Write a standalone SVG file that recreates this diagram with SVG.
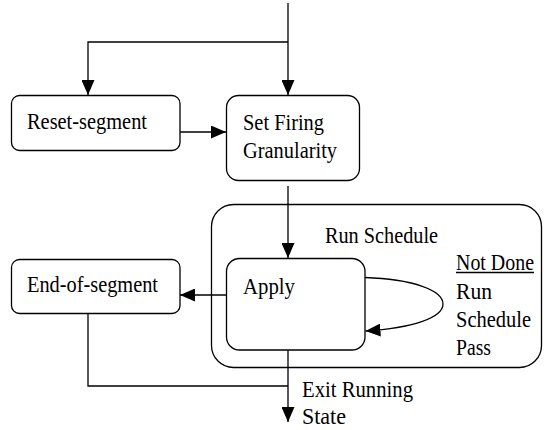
<svg xmlns="http://www.w3.org/2000/svg" width="544" height="430" viewBox="0 0 544 430">
<defs>
<style>
.box{fill:#fff;stroke:#000;stroke-width:1.3}
.outer{fill:none;stroke:#000;stroke-width:1.3}
.ln{fill:none;stroke:#000;stroke-width:1.3}
.t{font-family:"Liberation Serif","Times New Roman",serif;font-size:24px;fill:#000}
</style>
<marker id="ah" markerUnits="userSpaceOnUse" markerWidth="15" markerHeight="13" refX="15" refY="6.5" orient="auto">
<path d="M0,0 L15,6.5 L0,13 Z" fill="#000"/>
</marker>
</defs>
<rect width="544" height="430" fill="#fff"/>
<g id="run-schedule">
<rect class="outer" x="211.5" y="204.5" width="330" height="163" rx="22" ry="22"/>
<text class="t" x="325" y="243" textLength="113" lengthAdjust="spacingAndGlyphs">Run Schedule</text>
</g>
<g id="reset-segment">
<rect class="box" x="11.5" y="95.5" width="168.5" height="55" rx="8" ry="8"/>
<text class="t" x="27" y="128.5" textLength="120" lengthAdjust="spacingAndGlyphs">Reset-segment</text>
</g>
<g id="set-firing-granularity">
<rect class="box" x="226.5" y="95.5" width="133" height="85" rx="12" ry="12"/>
<text class="t" x="243" y="130" textLength="81" lengthAdjust="spacingAndGlyphs">Set Firing</text>
<text class="t" x="243" y="158" textLength="94" lengthAdjust="spacingAndGlyphs">Granularity</text>
</g>
<g id="apply">
<rect class="box" x="226.5" y="258.5" width="138.5" height="91.5" rx="13" ry="13"/>
<text class="t" x="243" y="294" textLength="52" lengthAdjust="spacingAndGlyphs">Apply</text>
</g>
<g id="end-of-segment">
<rect class="box" x="11.5" y="259.5" width="168.5" height="54" rx="8" ry="8"/>
<text class="t" x="27" y="292" textLength="131" lengthAdjust="spacingAndGlyphs">End-of-segment</text>
</g>
<g id="connectors">
<path class="ln" d="M288,3 V42"/>
<path class="ln" d="M288,42 H88 V95" marker-end="url(#ah)"/>
<path class="ln" d="M288,42 V95" marker-end="url(#ah)"/>
<path class="ln" d="M180,132 H226" marker-end="url(#ah)"/>
<path class="ln" d="M288,186 V258" marker-end="url(#ah)"/>
<path class="ln" d="M226.5,295 H180" marker-end="url(#ah)"/>
<path class="ln" d="M365,277.5 C412,279 443,290 443,304 C443,318 412,328 365.5,331" marker-end="url(#ah)"/>
<path class="ln" d="M288,350 V422" marker-end="url(#ah)"/>
<path class="ln" d="M88,313.5 V386 H288"/>
</g>
<g id="labels">
<text class="t" x="456" y="270" textLength="78" lengthAdjust="spacingAndGlyphs">Not Done</text>
<path class="ln" d="M456,272.5 H534" stroke-width="1.1"/>
<text class="t" x="456" y="298.5" textLength="36" lengthAdjust="spacingAndGlyphs">Run</text>
<text class="t" x="456" y="327" textLength="75" lengthAdjust="spacingAndGlyphs">Schedule</text>
<text class="t" x="456" y="355" textLength="35" lengthAdjust="spacingAndGlyphs">Pass</text>
<text class="t" x="302" y="397" textLength="111" lengthAdjust="spacingAndGlyphs">Exit Running</text>
<text class="t" x="302" y="423.5" textLength="44" lengthAdjust="spacingAndGlyphs">State</text>
</g>
</svg>
